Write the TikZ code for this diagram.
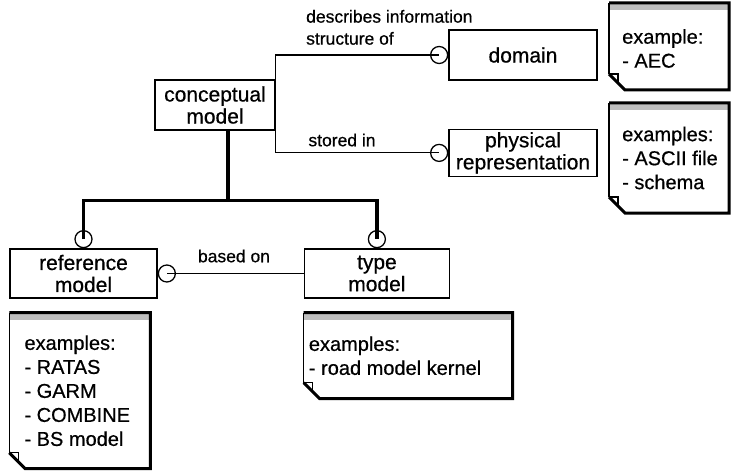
\documentclass[tikz,border=0pt]{standalone}
\usepackage{fontspec}
\setmainfont{Liberation Sans}[FakeBold=0.6]
\usepackage{tikz}
\usetikzlibrary{positioning}
\usetikzlibrary{calc}
\tikzset{
    entity/.style={draw, line width=1.4pt, inner sep=0pt, align=center, font=\fontsize{21}{22}\selectfont},
    note/.style={inner sep=0pt, outer sep=0pt},
    notetext/.style={inner sep=0pt, anchor=west, align=left, font=\fontsize{20}{24}\selectfont},
    ring/.style={draw, circle, line width=1.3pt, minimum size=17pt, inner sep=0pt},
    rel/.style={line width=1.2pt},
    subtype/.style={line width=3.5pt},
    lbl/.style={inner sep=1pt, align=left, font=\fontsize{17.5}{22}\selectfont}
}
\newcommand{\dogear}[1]{%
    \fill[gray!50] (#1.north west) rectangle ([yshift=-7pt]#1.north east);
    \draw[line width=1.2pt] ([yshift=16pt]#1.south west) -- (#1.north west);
    \draw[line width=3pt] (#1.north west) -- (#1.north east) -- (#1.south east)
        -- ([xshift=16pt]#1.south west) -- ([yshift=16pt]#1.south west);
    \draw[line width=1.2pt] ([yshift=16pt]#1.south west) -- ++(9pt,0) -- ++(0,-9pt);
}

\begin{document}
\begin{tikzpicture}[x=1pt, y=1pt]
    \useasboundingbox (0,0) rectangle (733,472);

    \node (cm)   [entity, minimum width=120pt, minimum height=50pt] at (215,367) {conceptual\\model};
    \node (dom)  [entity, minimum width=148pt, minimum height=50pt] at (523,417) {domain};
    \node (phys) [entity, minimum width=148pt, minimum height=47pt, below=48pt of dom] {physical\\representation};
    \node (ref)  [entity, minimum width=147pt, minimum height=49pt] at (83.5,198.5) {reference\\model};
    \node (typ)  [entity, minimum width=145pt, minimum height=49pt, right=146pt of ref] {type\\model};

    \node (domring)  [ring, left=0pt of dom]  {};
    \node (physring) [ring, left=0pt of phys] {};
    \node (refring)  [ring, above=0pt of ref] {};
    \node (typring)  [ring, above=0pt of typ] {};
    \node (basring)  [ring, right=0pt of ref] {};

    % relationships
    \draw[rel] (cm.north east) |- (domring.center);
    \draw[rel] (cm.south east) |- (physring.center);
    \draw[rel] (typ.west) -- (basring.center);

    \node (lbldesc)  [lbl, anchor=south west] at (305,426) {describes information\\structure of};
    \node (lblstore) [lbl] at (342,332) {stored in};
    \node (lblbase)  [lbl] at (234,216) {based on};

    % subtypes
    \coordinate (fork) at ($(cm.south)+(13,-70)$);
    \draw[subtype] ([xshift=13pt]cm.south) -- (fork);
    \draw[subtype] (refring.center) |- (fork) -| (typring.center);

    % notes
    \node (domnote)  [note, minimum width=120pt, minimum height=87pt] at (669,425.5) {};
    \node (physnote) [note, minimum width=120pt, minimum height=110pt] at (669,314) {};
    \node (refnote)  [note, minimum width=141pt, minimum height=156pt, below right=14pt and 0pt of ref.south west] {};
    \node (typnote)  [note, minimum width=209pt, minimum height=86pt, below right=14pt and 0pt of typ.south west] {};
    \dogear{domnote}
    \dogear{physnote}
    \dogear{refnote}
    \dogear{typnote}

    \node (domtext)  [notetext] at ([xshift=13pt, yshift=-2pt]domnote.west) {example:\\- AEC};
    \node (phystext) [notetext] at ([xshift=13pt]physnote.west) {examples:\\- ASCII file\\- schema};
    \node (reftext)  [notetext] at ([xshift=15pt]refnote.west) {examples:\\- RATAS\\- GARM\\- COMBINE\\- BS model};
    \node (typtext)  [notetext] at ([xshift=5pt]typnote.west) {examples:\\- road model kernel};
\end{tikzpicture}
\end{document}
